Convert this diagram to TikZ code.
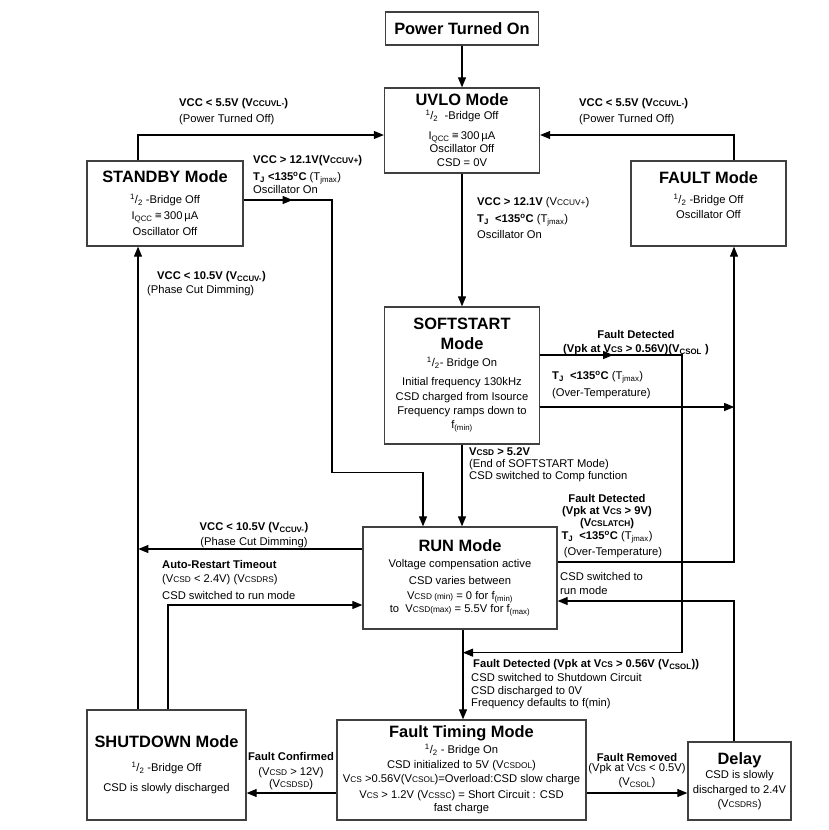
\documentclass[tikz,border=0pt]{standalone}
\usepackage{fontspec}
\setmainfont{Liberation Sans}
\newfontfamily\dejavu{DejaVu Sans}
\usetikzlibrary{positioning, arrows.meta, decorations.markings}

\newcommand{\ttl}[1]{{\fontsize{16.4}{19}\selectfont\bfseries #1}}
\newcommand{\vsub}[1]{{\fontsize{8.3}{9}\selectfont #1}}
\newcommand{\half}{\textsuperscript{1}/\textsubscript{2}}
\newcommand{\degc}{\textsuperscript{o}C}
\newcommand{\approxeq}{{\dejavu\fontsize{9}{10}\selectfont\raisebox{1.5pt}{≅}}}

\begin{document}
\begin{tikzpicture}[
    x=1pt, y=-1pt,
    mode/.style={rectangle, draw=black!75, line width=1.3pt, align=center, inner sep=2pt, font=\fontsize{11.2}{14}\selectfont},
    arrow/.style={-{Triangle[length=10pt, width=8pt]}, line width=1.1pt},
    midarrow/.style={postaction={decorate}, decoration={markings, mark=at position #1 with {\arrow{Triangle[length=10pt, width=8pt]}}}},
    cond/.style={align=left, anchor=north west, inner sep=0pt, font=\fontsize{11.2}{13.5}\selectfont},
    condc/.style={cond, align=center, anchor=north}
  ]
  \useasboundingbox (0,0) rectangle (828,830);

  % Modes
  \node[mode, minimum width=153pt, minimum height=33pt] (power) at (462,28.5) {\ttl{Power Turned On}};

  \node[mode, minimum width=155pt, minimum height=85pt] (uvlo) at (462,130.5) {\ttl{UVLO Mode}\\[0pt] \half\ \ -Bridge Off\\[6pt] I\textsubscript{QCC}\,\approxeq\,300\,µA\\[-1pt] Oscillator Off\\[0pt] CSD = 0V};

  \node[mode, minimum width=156pt, minimum height=85pt] (standby) at (165,203.5) {\ttl{STANDBY Mode}\\[7pt] \half\ -Bridge Off\\[2pt] I\textsubscript{QCC}\,\approxeq\,300\,µA\\[2pt] Oscillator Off};

  \node[mode, minimum width=155pt, minimum height=85pt] (fault) at (708.5,203.5) {\ttl{FAULT Mode}\\[6pt] \half\ -Bridge Off\\[1pt] Oscillator Off\\[2pt]\mbox{}};

  \node[mode, minimum width=155pt, minimum height=137pt] (softstart) at (462,375.5) {\ttl{SOFTSTART}\\[6pt] \ttl{Mode}\\[3pt] \half- Bridge On\\[5pt] Initial frequency 130kHz\\[0.5pt] CSD charged from Isource\\[0.5pt] Frequency ramps down to\\ f\textsubscript{(min)}};

  \node[mode, minimum width=194pt, minimum height=102pt] (run) at (460,578) {\ttl{RUN Mode}\\[2pt] Voltage compensation active\\[3pt] CSD varies between\\[0.5pt] V\vsub{CSD (min)} = 0 for f\textsubscript{(min)}\\[-1pt] to \ V\vsub{CSD(max)} = 5.5V for f\textsubscript{(max)}};

  \node[mode, minimum width=159pt, minimum height=110pt] (shutdown) at (166.5,765) {\ttl{SHUTDOWN Mode}\\[10pt] \half\ -Bridge Off\\[6pt] CSD is slowly discharged};

  \node[mode, minimum width=249pt, minimum height=100pt] (timing) at (461.5,770) {\ttl{Fault Timing Mode}\\[2pt] \half\ - Bridge On\\[1pt] CSD initialized to 5V (V\vsub{CSDOL})\\[0pt] V\vsub{CS} >0.56V(V\vsub{CSOL})=Overload:CSD slow charge\\[2pt] V\vsub{CS} > 1.2V (V\vsub{CSSC}) = Short Circuit : CSD\\[-1pt] fast charge};

  \node[mode, minimum width=103pt, minimum height=78pt] (delay) at (739.5,781) {\ttl{Delay}\\[0pt] CSD is slowly\\[1pt] discharged to 2.4V\\ (V\vsub{CSDRS})};

  % Transitions
  \draw[arrow] (power) -- (uvlo);
  \draw[arrow] ([shift={(-27,0)}]standby.north) |- ([shift={(0,4.5)}]uvlo.west);
  \draw[arrow] ([shift={(25.5,0)}]fault.north) |- ([shift={(0,4.5)}]uvlo.east);
  \draw[arrow, midarrow=49pt] ([shift={(0,-3.5)}]standby.east) -| ([shift={(-128,-54)}]run.north) -| ([shift={(-37,0)}]run.north);
  \draw[arrow] (uvlo) -- (softstart);
  \draw[arrow] (softstart.south) -- (softstart.south |- run.north);
  \draw[arrow] ([shift={(0,31.5)}]softstart.east) -- ++(194,0);
  \draw[arrow] ([shift={(0,-16)}]run.east) -| ([shift={(25.5,0)}]fault.south);
  \draw[arrow, midarrow=73pt] ([shift={(0,-20.5)}]softstart.east) -| ([shift={(222,23)}]run.south) -- ([shift={(3,23)}]run.south);
  \draw[arrow] ([shift={(3,0)}]run.south) -- ([shift={(3,0)}]run.south |- timing.north);
  \draw[arrow] ([shift={(0,-29)}]run.west) -- ++(-224,0);
  \draw[arrow] ([shift={(-28.5,0)}]shutdown.north) -- ([shift={(-27,0)}]standby.south);
  \draw[arrow] ([shift={(1.5,0)}]shutdown.north) |- ([shift={(0,27)}]run.west);
  \draw[arrow] ([shift={(0,23)}]timing.west) -- ([shift={(0,28)}]shutdown.east);
  \draw[arrow] ([shift={(0,23)}]timing.east) -- ([shift={(0,12)}]delay.west);
  \draw[arrow] ([shift={(-5.5,0)}]delay.north) |- ([shift={(0,23)}]run.east);

  % Conditions
  \node[cond] (offl) at (179,98.5) {\textbf{VCC < 5.5V (V\vsub{CCUVL-})}\\[2.5pt] (Power Turned Off)};
  \node[cond] (offr) at (579,98.5) {\textbf{VCC < 5.5V (V\vsub{CCUVL-})}\\[2.5pt] (Power Turned Off)};
  \node[cond] (stbyon) at (253,155.5) {\textbf{VCC > 12.1V(V\vsub{CCUV+})}\\[3.5pt] \textbf{T\textsubscript{J} <135\degc} (T\textsubscript{jmax})\\[-0.5pt] Oscillator On};
  \node[cond] (uvloon) at (477,197.5) {\textbf{VCC > 12.1V} (V\vsub{CCUV+})\\[3.5pt] \textbf{T\textsubscript{J} \ <135\degc} (T\textsubscript{jmax})\\[2.5pt] Oscillator On};
  \node[cond] (dimup) at (147,271.5) {\hspace*{10pt}\textbf{VCC < 10.5V (V\textsubscript{CCUV-})}\\[0.5pt] (Phase Cut Dimming)};
  \node[condc] (ssfault) at (636,330.5) {\textbf{Fault Detected}\\[0.5pt] \textbf{(Vpk at V\vsub{CS} > 0.56V)(V\textsubscript{CSOL} )}};
  \node[cond] (ssot) at (552,371.5) {\textbf{T\textsubscript{J} \ <135\degc} (T\textsubscript{jmax})\\[3.5pt] (Over-Temperature)};
  \node[cond] (ssend) at (469,447.5) {\textbf{V\vsub{CSD} > 5.2V}\\[-1.5pt] (End of SOFTSTART Mode)\\[-1.5pt] CSD switched to Comp function};
  \node[condc] (runfault) at (607,494.5) {\textbf{Fault Detected}\\[-1.5pt] \textbf{(Vpk at V\vsub{CS} > 9V)}\\[-1.5pt] \textbf{(V\vsub{CSLATCH})}\\[-0.5pt] \textbf{T\textsubscript{J} \ <135\degc} (T\textsubscript{jmax})\\[2.5pt] \hspace*{12pt}(Over-Temperature)};
  \node[condc] (dimrun) at (254,522.5) {\textbf{VCC < 10.5V (V\textsubscript{CCUV-})}\\[1.5pt] (Phase Cut Dimming)};
  \node[cond] (restart) at (162,560.5) {\textbf{Auto-Restart Timeout}\\[0.5pt] (V\vsub{CSD} < 2.4V) (V\vsub{CSDRS})\\[3.5pt] CSD switched to run mode};
  \node[cond] (torun) at (560,572.5) {CSD switched to\\[0.5pt] run mode};
  \node[cond] (runtiming) at (471,659.5) {\hspace*{2pt}\textbf{Fault Detected (Vpk at V\vsub{CS} > 0.56V (V\textsubscript{CSOL}))}\\[0.5pt] CSD switched to Shutdown Circuit\\[-0.5pt] CSD discharged to 0V\\[-1.5pt] Frequency defaults to f(min)};
  \node[condc] (confirm) at (291,752.5) {\textbf{Fault Confirmed}\\[1.5pt] (V\vsub{CSD} > 12V)\\[-1.5pt] (V\vsub{CSDSD})};
  \node[condc] (removed) at (637,753.5) {\textbf{Fault Removed}\\[-3.5pt] (Vpk at V\vsub{CS} < 0.5V)\\[0.5pt] (V\textsubscript{CSOL})};
\end{tikzpicture}
\end{document}
